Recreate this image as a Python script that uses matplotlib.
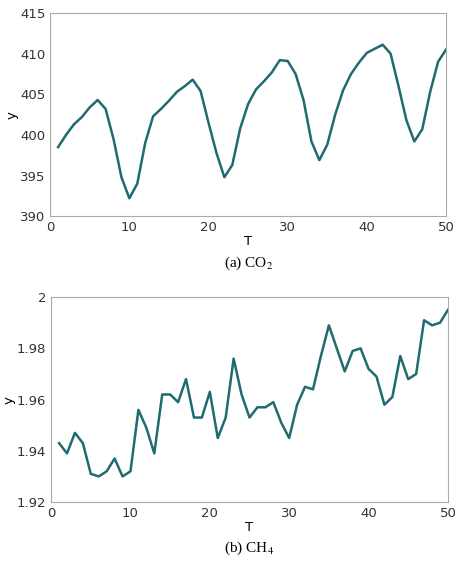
import matplotlib
matplotlib.use("Agg")
import matplotlib.pyplot as plt

T = list(range(1, 51))
co2 = [398.5, 400, 401.3, 402.2, 403.4, 404.3, 403.2, 399.5, 394.8, 392.2,
       394, 399, 402.3, 403.2, 404.2, 405.3, 406, 406.8, 405.4, 401.5,
       397.8, 394.8, 396.3, 400.8, 403.8, 405.6, 406.6, 407.7, 409.2, 409.1,
       407.5, 404.3, 399.2, 396.9, 398.8, 402.5, 405.5, 407.5, 408.9, 410.1,
       410.6, 411.1, 410, 406, 401.8, 399.2, 400.7, 405.3, 409, 410.5]
ch4 = [1.943, 1.939, 1.947, 1.943, 1.931, 1.930, 1.932, 1.937, 1.930, 1.932,
       1.956, 1.949, 1.939, 1.962, 1.962, 1.959, 1.968, 1.953, 1.953, 1.963,
       1.945, 1.953, 1.976, 1.962, 1.953, 1.957, 1.957, 1.959, 1.951, 1.945,
       1.958, 1.965, 1.964, 1.977, 1.989, 1.980, 1.971, 1.979, 1.980, 1.972,
       1.969, 1.958, 1.961, 1.977, 1.968, 1.970, 1.991, 1.989, 1.990, 1.995]

plt.rcParams["mathtext.fontset"] = "stix"
color = "#1f6b70"
fig = plt.figure(figsize=(4.69, 5.66), dpi=100)
ax1 = fig.add_axes([0.107, 0.618, 0.844, 0.359])
ax2 = fig.add_axes([0.109, 0.113, 0.846, 0.362])

for ax, y, lim, ticks, lbl in [
        (ax1, co2, (390, 415), [390, 395, 400, 405, 410, 415], None),
        (ax2, ch4, (1.92, 2.0), [1.92, 1.94, 1.96, 1.98, 2.0], ["1.92", "1.94", "1.96", "1.98", "2"])]:
    ax.plot(T, y, color=color, lw=1.8)
    ax.set_xlim(0, 50)
    ax.set_ylim(*lim)
    ax.set_xticks([0, 10, 20, 30, 40, 50])
    ax.set_yticks(ticks)
    if lbl:
        ax.set_yticklabels(lbl)
    ax.tick_params(labelsize=9.5, length=0, colors="#333333")
    ax.grid(False)
    for s in ax.spines.values():
        s.set_color("#aaaaaa")
        s.set_linewidth(0.8)
    ax.set_xlabel("T", fontsize=9.5, labelpad=1)
    ax.set_ylabel("y", fontsize=9.5, labelpad=1)

fig.text(0.53, 0.535, "(a) CO$_2$", ha="center", va="center", fontsize=11, family="Liberation Serif")
fig.text(0.53, 0.031, "(b) CH$_4$", ha="center", va="center", fontsize=11, family="Liberation Serif")
fig.savefig("out.png", dpi=100)
